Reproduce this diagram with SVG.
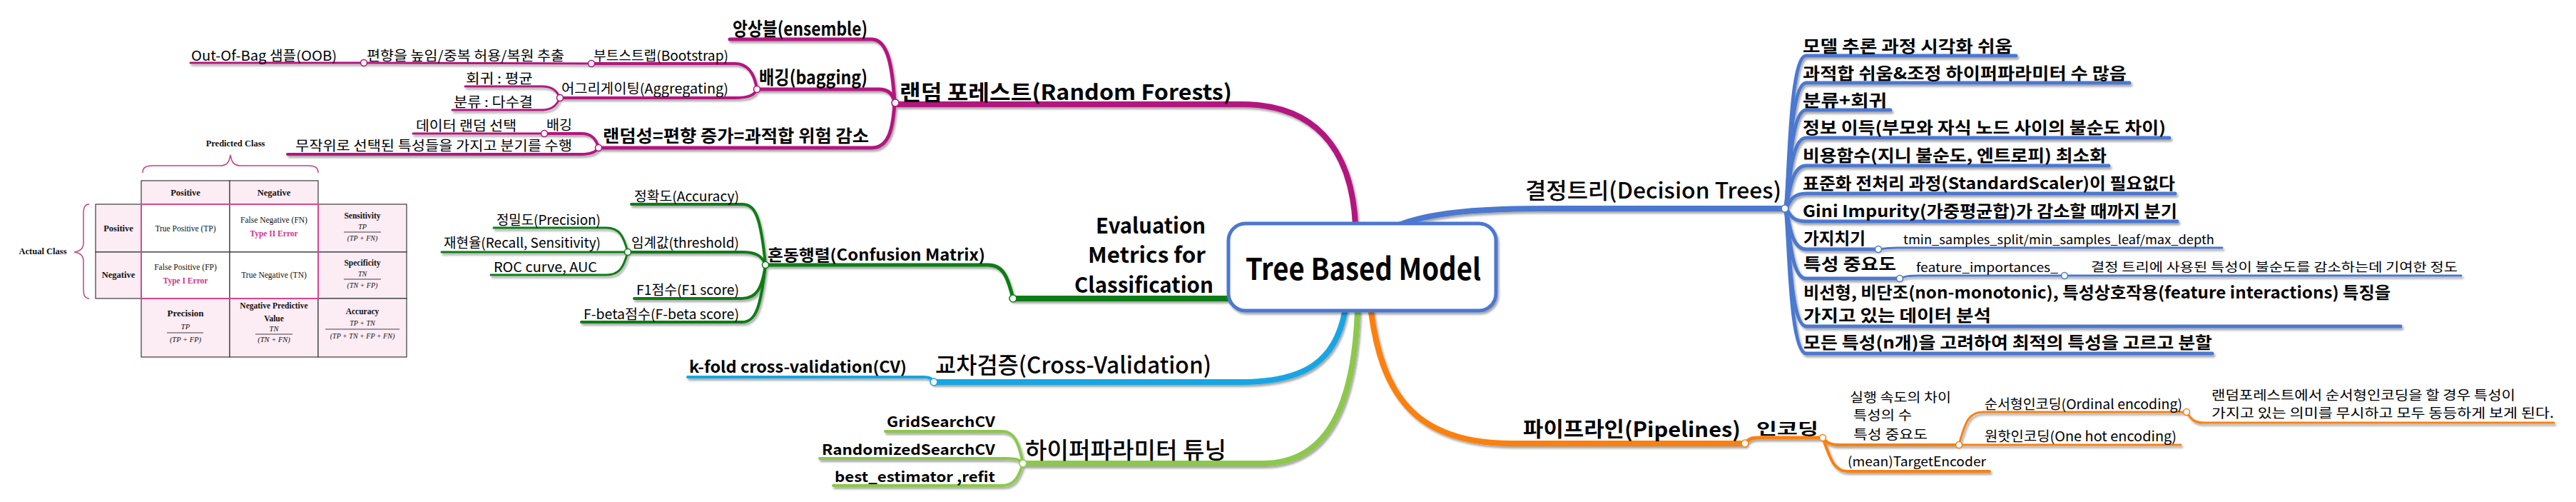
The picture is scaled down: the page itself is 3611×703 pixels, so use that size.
<svg xmlns="http://www.w3.org/2000/svg" width="3611" height="703" viewBox="0 0 3611 703">
<style>
.t{font-family:"Noto Sans CJK KR","Noto Sans",sans-serif;fill:#000}
.b{font-weight:700}
.m{font-weight:500}
.s{font-family:"Liberation Serif","Times New Roman",serif;fill:#111}
.sb{font-weight:700}
.pk{fill:#d6338a}
.ln{fill:none;stroke-linecap:round;stroke-linejoin:round}
.mg{stroke:#b3157f}
.gr{stroke:#0d7d12}
.cy{stroke:#16a6e4}
.lg{stroke:#8cc84c}
.or{stroke:#fb800f}
.bl{stroke:#4c78d0}
.w8{stroke-width:8}.w5{stroke-width:5}.w4{stroke-width:4}.w3{stroke-width:3}
.nd{fill:#fff;stroke-width:1.6}
.cell{fill:#fff;stroke:#3a3a3a;stroke-width:1.2}
.pc{fill:#fcecf3;stroke:#3a3a3a;stroke-width:1.2}
</style>
<defs>
<filter id="sh" x="-2%" y="-5%" width="104%" height="115%"><feDropShadow dx="2" dy="3" stdDeviation="1.5" flood-color="#000" flood-opacity="0.35"/></filter>
</defs>
<rect width="3611" height="703" fill="#fff"/>

<g id="confusion-matrix">
<path d="M200,242 C200,234 205,232 215,232 L308,232 C318,232 321,228 323,217 C325,228 328,232 338,232 L431,232 C441,232 446,234 446,242" fill="none" stroke="#c2418a" stroke-width="1.5"/>
<path d="M125,286 C118,286 117,292 117,300 L117,340 C117,348 112,352 104,353 C112,354 117,358 117,366 L117,404 C117,412 118,418 125,418" fill="none" stroke="#c2418a" stroke-width="1.5"/>
<rect class="pc" x="198" y="253" width="124" height="33"/>
<rect class="pc" x="322" y="253" width="124" height="33"/>
<rect class="pc" x="134" y="286" width="64" height="67"/>
<rect class="pc" x="134" y="353" width="64" height="65"/>
<rect class="cell" x="198" y="286" width="124" height="67"/>
<rect class="cell" x="322" y="286" width="124" height="67"/>
<rect class="cell" x="198" y="353" width="124" height="65"/>
<rect class="cell" x="322" y="353" width="124" height="65"/>
<rect class="pc" x="446" y="286" width="124" height="67"/>
<rect class="pc" x="446" y="353" width="124" height="65"/>
<rect class="pc" x="198" y="418" width="124" height="82"/>
<rect class="pc" x="322" y="418" width="124" height="82"/>
<rect class="pc" x="446" y="418" width="124" height="82"/>
<rect x="198" y="286" width="248" height="132" fill="none" stroke="#d9468f" stroke-width="2"/>
<text class="s sb" x="330" y="205" font-size="12.5" text-anchor="middle">Predicted Class</text>
<text class="s sb" x="60" y="356" font-size="12.5" text-anchor="middle">Actual Class</text>
<text class="s sb" x="260" y="274" font-size="12.5" text-anchor="middle">Positive</text>
<text class="s sb" x="384" y="274" font-size="12.5" text-anchor="middle">Negative</text>
<text class="s sb" x="166" y="324" font-size="12.5" text-anchor="middle">Positive</text>
<text class="s sb" x="166" y="389" font-size="12.5" text-anchor="middle">Negative</text>
<text class="s" x="260" y="324" font-size="11.5" text-anchor="middle">True Positive (TP)</text>
<text class="s" x="384" y="312" font-size="11.5" text-anchor="middle">False Negative (FN)</text>
<text class="s sb pk" x="384" y="331" font-size="11.5" text-anchor="middle">Type II Error</text>
<text class="s" x="260" y="378" font-size="11.5" text-anchor="middle">False Positive (FP)</text>
<text class="s sb pk" x="260" y="397" font-size="11.5" text-anchor="middle">Type I Error</text>
<text class="s" x="384" y="389" font-size="11.5" text-anchor="middle">True Negative (TN)</text>
<text class="s sb" x="508" y="306" font-size="11.5" text-anchor="middle">Sensitivity</text>
<text class="s" x="508" y="321" font-size="10" font-style="italic" text-anchor="middle">TP</text>
<line x1="482" y1="325" x2="534" y2="325" stroke="#111" stroke-width="0.8"/>
<text class="s" x="508" y="337" font-size="10" font-style="italic" text-anchor="middle">(TP + FN)</text>
<text class="s sb" x="508" y="372" font-size="11.5" text-anchor="middle">Specificity</text>
<text class="s" x="508" y="387" font-size="10" font-style="italic" text-anchor="middle">TN</text>
<line x1="482" y1="391" x2="534" y2="391" stroke="#111" stroke-width="0.8"/>
<text class="s" x="508" y="403" font-size="10" font-style="italic" text-anchor="middle">(TN + FP)</text>
<text class="s sb" x="260" y="443" font-size="13" text-anchor="middle">Precision</text>
<text class="s" x="260" y="461" font-size="10.5" font-style="italic" text-anchor="middle">TP</text>
<line x1="234" y1="466" x2="285" y2="466" stroke="#111" stroke-width="0.8"/>
<text class="s" x="260" y="479" font-size="10.5" font-style="italic" text-anchor="middle">(TP + FP)</text>
<text class="s sb" x="384" y="432" font-size="11.5" text-anchor="middle">Negative Predictive</text>
<text class="s sb" x="384" y="450" font-size="11.5" text-anchor="middle">Value</text>
<text class="s" x="384" y="464" font-size="10.5" font-style="italic" text-anchor="middle">TN</text>
<line x1="358" y1="468" x2="410" y2="468" stroke="#111" stroke-width="0.8"/>
<text class="s" x="384" y="479" font-size="10.5" font-style="italic" text-anchor="middle">(TN + FN)</text>
<text class="s sb" x="508" y="440" font-size="11.5" text-anchor="middle">Accuracy</text>
<text class="s" x="508" y="456" font-size="10" font-style="italic" text-anchor="middle">TP + TN</text>
<line x1="456" y1="461" x2="560" y2="461" stroke="#111" stroke-width="0.8"/>
<text class="s" x="508" y="474" font-size="10" font-style="italic" text-anchor="middle">(TP + TN + FP + FN)</text>
</g>

<g id="connectors" filter="url(#sh)">
<!-- magenta -->
<path class="ln mg w8" d="M1900,315 C1896,230 1860,146 1740,146 L1254,146"/>
<path class="ln mg w5" d="M1023,55 L1222,55 C1245,55 1251,95 1254,143"/>
<path class="ln mg w5" d="M1061,125 L1232,125 C1246,125 1252,133 1254,143"/>
<path class="ln mg w5" d="M839,207 L1222,207 C1246,207 1252,180 1254,143"/>
<path class="ln mg w4" d="M829,89 L1030,89 C1050,89 1058,105 1061,125"/>
<path class="ln mg w4" d="M785,137 L1030,137 C1050,137 1058,133 1061,125"/>
<path class="ln mg w3" d="M510,88 L829,89"/>
<path class="ln mg w3" d="M267,88 L510,88"/>
<path class="ln mg w3" d="M652,121 L760,121 C775,121 781,128 785,137"/>
<path class="ln mg w3" d="M634,154 L760,154 C775,154 781,146 785,137"/>
<path class="ln mg w3" d="M579,187 L763,187"/>
<path class="ln mg w4" d="M763,187 L815,187 C830,187 836,195 839,207"/>
<path class="ln mg w4" d="M403,216 L815,216 C830,216 836,212 839,207"/>
<!-- green -->
<path class="ln gr w8" d="M1724,418 L1420,418"/>
<path class="ln gr w5" d="M1420,418 C1412,385 1405,371 1385,371 L1073,371"/>
<path class="ln gr w4" d="M1073,371 C1066,300 1058,286 1040,286 L885,286"/>
<path class="ln gr w4" d="M1073,371 C1068,358 1060,353 1040,353 L880,353"/>
<path class="ln gr w4" d="M1073,371 C1068,405 1060,418 1040,418 L889,418"/>
<path class="ln gr w4" d="M1073,371 C1066,435 1058,451 1040,451 L815,451"/>
<path class="ln gr w3" d="M880,353 C874,330 868,319 850,319 L692,319"/>
<path class="ln gr w3" d="M880,353 L619,353"/>
<path class="ln gr w3" d="M880,353 C874,375 868,385 850,385 L688,385"/>
<!-- cyan -->
<path class="ln cy w8" d="M1885,437 C1872,505 1830,535 1740,535 L1309,535"/>
<path class="ln cy w4" d="M1309,535 C1306,530 1303,528 1295,528 L964,528"/>
<!-- light green -->
<path class="ln lg w8" d="M1903,437 C1898,560 1865,649 1770,649 L1434,649"/>
<path class="ln lg w4" d="M1434,649 C1428,620 1422,604 1405,604 L1241,604"/>
<path class="ln lg w4" d="M1434,649 C1430,644 1425,642 1410,642 L1149,642"/>
<path class="ln lg w4" d="M1434,649 C1428,668 1422,680 1405,680 L1168,680"/>
<!-- orange -->
<path class="ln or w8" d="M1922,437 C1938,560 1990,621 2120,621 L2446,621"/>
<path class="ln or w5" d="M2446,621 C2452,614 2456,613 2466,613 L2555,613"/>
<path class="ln or w4" d="M2555,613 C2560,620 2565,623 2580,623 L2746,623"/>
<path class="ln or w4" d="M2555,613 C2565,640 2570,660 2590,660 L2789,660"/>
<path class="ln or w3" d="M2746,623 L3057,623"/>
<path class="ln or w3" d="M2746,623 C2755,590 2760,577 2780,577 L3065,577"/>
<path class="ln or w3" d="M3065,577 C3072,588 3076,592 3090,592 L3580,592"/>
<!-- blue -->
<path class="ln bl w8" d="M1961,315 C2010,296 2080,292 2178,292 L2502,292"/>
<path class="ln bl w5" d="M2502,292 C2508,292 2506,78 2532,78 L2826,78"/>
<path class="ln bl w5" d="M2502,292 C2508,292 2506,116 2532,116 L2985,116"/>
<path class="ln bl w5" d="M2502,292 C2508,292 2506,154 2532,154 L2650,154"/>
<path class="ln bl w5" d="M2502,292 C2508,292 2506,193 2532,193 L3041,193"/>
<path class="ln bl w5" d="M2502,292 C2508,292 2506,232 2532,232 L2956,232"/>
<path class="ln bl w5" d="M2502,292 C2508,292 2506,271 2532,271 L3049,271"/>
<path class="ln bl w5" d="M2502,292 C2508,292 2506,310 2532,310 L3052,310"/>
<path class="ln bl w5" d="M2502,292 C2508,292 2506,349 2532,349 L2633,349"/>
<path class="ln bl w5" d="M2502,292 C2508,292 2506,390 2532,390 L2663,390"/>
<path class="ln bl w5" d="M2502,292 C2508,292 2506,457 2532,457 L3365,457"/>
<path class="ln bl w5" d="M2502,292 C2508,292 2506,495 2532,495 L3101,495"/>
<path class="ln bl w3" d="M2633,349 C2640,348 2645,347 2660,347 L3115,347"/>
<path class="ln bl w3" d="M2663,390 C2670,387 2675,386 2690,386 L2894,386"/>
<path class="ln bl w3" d="M2894,386 L3450,386"/>
</g>

<g id="junctions">
<circle class="nd" cx="510" cy="88" r="4.5" stroke="#b3157f"/>
<circle class="nd" cx="829" cy="89" r="4.5" stroke="#b3157f"/>
<circle class="nd" cx="785" cy="137" r="4.5" stroke="#b3157f"/>
<circle class="nd" cx="1061" cy="125" r="4.5" stroke="#b3157f"/>
<circle class="nd" cx="763" cy="187" r="4.5" stroke="#b3157f"/>
<circle class="nd" cx="839" cy="207" r="4.5" stroke="#b3157f"/>
<circle class="nd" cx="1255" cy="144" r="5" stroke="#b3157f"/>
<circle class="nd" cx="1420" cy="418" r="5" stroke="#0d7d12"/>
<circle class="nd" cx="1073" cy="371" r="4.5" stroke="#0d7d12"/>
<circle class="nd" cx="880" cy="353" r="4.5" stroke="#0d7d12"/>
<circle class="nd" cx="1309" cy="535" r="5" stroke="#16a6e4"/>
<circle class="nd" cx="1434" cy="649" r="5" stroke="#8cc84c"/>
<circle class="nd" cx="2446" cy="621" r="5" stroke="#fb800f"/>
<circle class="nd" cx="2555" cy="613" r="4.5" stroke="#fb800f"/>
<circle class="nd" cx="2746" cy="623" r="4.5" stroke="#fb800f"/>
<circle class="nd" cx="3065" cy="577" r="4.5" stroke="#fb800f"/>
<circle class="nd" cx="2502" cy="292" r="5" stroke="#4c78d0"/>
<circle class="nd" cx="2633" cy="349" r="4.5" stroke="#4c78d0"/>
<circle class="nd" cx="2663" cy="390" r="4.5" stroke="#4c78d0"/>
<circle class="nd" cx="2894" cy="386" r="4.5" stroke="#4c78d0"/>
</g>

<g id="root">
<rect x="1722" y="313" width="375" height="122" rx="24" fill="#fff" stroke="#4c78d0" stroke-width="5" filter="url(#sh)"/>
<text class="t b" x="1746" y="392" font-size="42" textLength="330" lengthAdjust="spacingAndGlyphs">Tree Based Model</text>
</g>

<g id="random-forests">
<text class="t b" x="1261" y="140" font-size="30" textLength="466" lengthAdjust="spacingAndGlyphs">랜덤 포레스트(Random Forests)</text>
</g>
<g id="ensemble"><text class="t b" x="1027" y="50" font-size="26" textLength="189" lengthAdjust="spacingAndGlyphs">앙상블(ensemble)</text></g>
<g id="bagging"><text class="t b" x="1064" y="118" font-size="26" textLength="152" lengthAdjust="spacingAndGlyphs">배깅(bagging)</text></g>
<g id="randomness"><text class="t b" x="845" y="199" font-size="24" textLength="373" lengthAdjust="spacingAndGlyphs">랜덤성=편향 증가=과적합 위험 감소</text></g>
<g id="bootstrap"><text class="t" x="832" y="85" font-size="19" textLength="189" lengthAdjust="spacingAndGlyphs">부트스트랩(Bootstrap)</text></g>
<g id="aggregating"><text class="t" x="787" y="131" font-size="19" textLength="234" lengthAdjust="spacingAndGlyphs">어그리게이팅(Aggregating)</text></g>
<g id="bias"><text class="t" x="514" y="85" font-size="19" textLength="277" lengthAdjust="spacingAndGlyphs">편향을 높임/중복 허용/복원 추출</text></g>
<g id="oob"><text class="t" x="268" y="85" font-size="19" textLength="204" lengthAdjust="spacingAndGlyphs">Out-Of-Bag 샘플(OOB)</text></g>
<g id="regression-mean"><text class="t" x="653" y="117" font-size="19" textLength="94" lengthAdjust="spacingAndGlyphs">회귀 : 평균</text></g>
<g id="classification-vote"><text class="t" x="636" y="150" font-size="19" textLength="111" lengthAdjust="spacingAndGlyphs">분류 : 다수결</text></g>
<g id="data-random"><text class="t" x="583" y="183" font-size="19" textLength="141" lengthAdjust="spacingAndGlyphs">데이터 랜덤 선택</text></g>
<g id="bagging-small"><text class="t" x="766" y="182" font-size="19" textLength="36" lengthAdjust="spacingAndGlyphs">배깅</text></g>
<g id="random-features"><text class="t" x="414" y="211" font-size="19" textLength="388" lengthAdjust="spacingAndGlyphs">무작위로 선택된 특성들을 가지고 분기를 수행</text></g>

<g id="evaluation">
<text class="t b" x="1536" y="327" font-size="30" textLength="154" lengthAdjust="spacingAndGlyphs">Evaluation</text>
<text class="t b" x="1525" y="368" font-size="30" textLength="165" lengthAdjust="spacingAndGlyphs">Metrics for</text>
<text class="t b" x="1506" y="410" font-size="30" textLength="195" lengthAdjust="spacingAndGlyphs">Classification</text>
</g>
<g id="confusion"><text class="t b" x="1076" y="365" font-size="22" textLength="305" lengthAdjust="spacingAndGlyphs">혼동행렬(Confusion Matrix)</text></g>
<g id="accuracy"><text class="t" x="889" y="282" font-size="19" textLength="147" lengthAdjust="spacingAndGlyphs">정확도(Accuracy)</text></g>
<g id="threshold"><text class="t" x="885" y="347" font-size="19" textLength="151" lengthAdjust="spacingAndGlyphs">임계값(threshold)</text></g>
<g id="precision"><text class="t" x="696" y="315" font-size="19" textLength="146" lengthAdjust="spacingAndGlyphs">정밀도(Precision)</text></g>
<g id="recall"><text class="t" x="622" y="347" font-size="19" textLength="220" lengthAdjust="spacingAndGlyphs">재현율(Recall, Sensitivity)</text></g>
<g id="roc"><text class="t" x="692" y="381" font-size="19" textLength="145" lengthAdjust="spacingAndGlyphs">ROC curve, AUC</text></g>
<g id="f1"><text class="t" x="892" y="413" font-size="19" textLength="144" lengthAdjust="spacingAndGlyphs">F1점수(F1 score)</text></g>
<g id="fbeta"><text class="t" x="818" y="447" font-size="19" textLength="218" lengthAdjust="spacingAndGlyphs">F-beta점수(F-beta score)</text></g>

<g id="cross-validation"><text class="t m" x="1311" y="523" font-size="32" textLength="387" lengthAdjust="spacingAndGlyphs">교차검증(Cross-Validation)</text></g>
<g id="kfold"><text class="t b" x="966" y="522" font-size="22" textLength="305" lengthAdjust="spacingAndGlyphs">k-fold cross-validation(CV)</text></g>

<g id="hyperparameter"><text class="t m" x="1437" y="642" font-size="32" textLength="282" lengthAdjust="spacingAndGlyphs">하이퍼파라미터 튜닝</text></g>
<g id="gridsearch"><text class="t b" x="1243" y="598" font-size="20" textLength="152" lengthAdjust="spacingAndGlyphs">GridSearchCV</text></g>
<g id="randomizedsearch"><text class="t b" x="1152" y="637" font-size="20" textLength="243" lengthAdjust="spacingAndGlyphs">RandomizedSearchCV</text></g>
<g id="best-estimator"><text class="t b" x="1170" y="675" font-size="20" textLength="225" lengthAdjust="spacingAndGlyphs">best_estimator ,refit</text></g>

<g id="pipelines"><text class="t b" x="2135" y="612" font-size="29" textLength="305" lengthAdjust="spacingAndGlyphs">파이프라인(Pipelines)</text></g>
<g id="encoding"><text class="t b" x="2462" y="608" font-size="22" textLength="87" lengthAdjust="spacingAndGlyphs">인코딩</text></g>
<g id="encoding-factors">
<text class="t" x="2593" y="563" font-size="18" textLength="142" lengthAdjust="spacingAndGlyphs">실행 속도의 차이</text>
<text class="t" x="2598" y="588" font-size="18" textLength="82" lengthAdjust="spacingAndGlyphs">특성의 수</text>
<text class="t" x="2598" y="615" font-size="18" textLength="104" lengthAdjust="spacingAndGlyphs">특성 중요도</text>
</g>
<g id="target-encoder"><text class="t" x="2590" y="653" font-size="18" textLength="194" lengthAdjust="spacingAndGlyphs">(mean)TargetEncoder</text></g>
<g id="ordinal"><text class="t" x="2782" y="573" font-size="19" textLength="277" lengthAdjust="spacingAndGlyphs">순서형인코딩(Ordinal encoding)</text></g>
<g id="onehot"><text class="t" x="2782" y="618" font-size="19" textLength="269" lengthAdjust="spacingAndGlyphs">원핫인코딩(One hot encoding)</text></g>
<g id="ordinal-note">
<text class="t" x="3100" y="560" font-size="18" textLength="426" lengthAdjust="spacingAndGlyphs">랜덤포레스트에서 순서형인코딩을 할 경우 특성이</text>
<text class="t" x="3100" y="585" font-size="18" textLength="480" lengthAdjust="spacingAndGlyphs">가지고 있는 의미를 무시하고 모두 동등하게 보게 된다.</text>
</g>

<g id="decision-trees"><text class="t m" x="2138" y="278" font-size="31" textLength="359" lengthAdjust="spacingAndGlyphs">결정트리(Decision Trees)</text></g>
<g id="dt1"><text class="t b" x="2527" y="73" font-size="23" textLength="294" lengthAdjust="spacingAndGlyphs">모델 추론 과정 시각화 쉬움</text></g>
<g id="dt2"><text class="t b" x="2527" y="111" font-size="23" textLength="454" lengthAdjust="spacingAndGlyphs">과적합 쉬움&amp;조정 하이퍼파라미터 수 많음</text></g>
<g id="dt3"><text class="t b" x="2527" y="149" font-size="23" textLength="118" lengthAdjust="spacingAndGlyphs">분류+회귀</text></g>
<g id="dt4"><text class="t b" x="2527" y="187" font-size="23" textLength="509" lengthAdjust="spacingAndGlyphs">정보 이득(부모와 자식 노드 사이의 불순도 차이)</text></g>
<g id="dt5"><text class="t b" x="2527" y="226" font-size="23" textLength="426" lengthAdjust="spacingAndGlyphs">비용함수(지니 불순도, 엔트로피) 최소화</text></g>
<g id="dt6"><text class="t b" x="2527" y="265" font-size="23" textLength="522" lengthAdjust="spacingAndGlyphs">표준화 전처리 과정(StandardScaler)이 필요없다</text></g>
<g id="dt7"><text class="t b" x="2527" y="304" font-size="23" textLength="525" lengthAdjust="spacingAndGlyphs">Gini Impurity(가중평균합)가 감소할 때까지 분기</text></g>
<g id="dt8"><text class="t b" x="2528" y="342" font-size="23" textLength="87" lengthAdjust="spacingAndGlyphs">가지치기</text></g>
<g id="dt8-params"><text class="t" x="2668" y="342" font-size="17" textLength="436" lengthAdjust="spacingAndGlyphs">tmin_samples_split/min_samples_leaf/max_depth</text></g>
<g id="dt9"><text class="t b" x="2528" y="378" font-size="23" textLength="130" lengthAdjust="spacingAndGlyphs">특성 중요도</text></g>
<g id="dt9-attr"><text class="t" x="2686" y="381" font-size="17" textLength="199" lengthAdjust="spacingAndGlyphs">feature_importances_</text></g>
<g id="dt9-desc"><text class="t" x="2931" y="380" font-size="17" textLength="514" lengthAdjust="spacingAndGlyphs">결정 트리에 사용된 특성이 불순도를 감소하는데 기여한 정도</text></g>
<g id="dt10">
<text class="t b" x="2528" y="418" font-size="23" textLength="823" lengthAdjust="spacingAndGlyphs">비선형, 비단조(non-monotonic), 특성상호작용(feature interactions) 특징을</text>
<text class="t b" x="2528" y="450" font-size="23" textLength="263" lengthAdjust="spacingAndGlyphs">가지고 있는 데이터 분석</text>
</g>
<g id="dt11"><text class="t b" x="2528" y="488" font-size="23" textLength="573" lengthAdjust="spacingAndGlyphs">모든 특성(n개)을 고려하여 최적의 특성을 고르고 분할</text></g>
</svg>
